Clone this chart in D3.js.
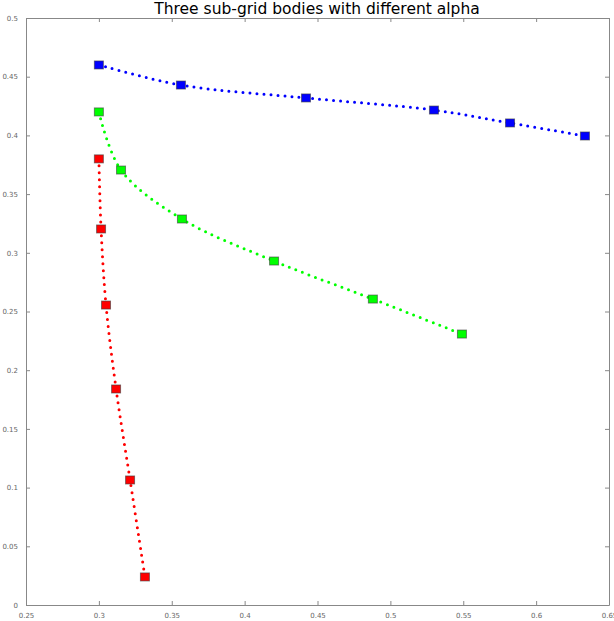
<!DOCTYPE html>
<html>
<head>
<meta charset="utf-8">
<script src="https://cdn.jsdelivr.net/npm/d3@7"></script>
<style>
  html, body { margin: 0; padding: 0; background: #fff; }
  svg { display: block; }
</style>
</head>
<body>
<svg id="chart" width="614" height="621"></svg>
<script>
// Body positions for the three sub-grid runs (x, y)
const blueX  = [0.300, 0.3563, 0.4421, 0.5299, 0.5821, 0.6335];
const blueY  = [0.460, 0.4429, 0.4319, 0.4216, 0.4106, 0.3995];
const greenX = [0.300, 0.3152, 0.3570, 0.4202, 0.4880, 0.5491];
const greenY = [0.420, 0.3705, 0.3288, 0.2930, 0.2606, 0.2308];
const redX   = [0.300, 0.3015, 0.3049, 0.3118, 0.3214, 0.3316];
const redY   = [0.380, 0.3203, 0.2555, 0.1840, 0.1065, 0.0239];

const xTicks = [0.25, 0.3, 0.35, 0.4, 0.45, 0.5, 0.55, 0.6, 0.65];
const yTicks = [0, 0.05, 0.1, 0.15, 0.2, 0.25, 0.3, 0.35, 0.4, 0.45, 0.5];
const xTickLabels = ["0.25", "0.3", "0.35", "0.4", "0.45", "0.5", "0.55", "0.6", "0.65"];
const yTickLabels = ["0", "0.05", "0.1", "0.15", "0.2", "0.25", "0.3", "0.35", "0.4", "0.45", "0.5"];

const series = [
  { name: "blue",  xs: blueX,  ys: blueY,  color: "#0000ff" },
  { name: "green", xs: greenX, ys: greenY, color: "#00ff00" },
  { name: "red",   xs: redX,   ys: redY,   color: "#ff0000" }
];

const svg = d3.select("#chart");
const plotLeft = 26, plotRight = 609, plotTop = 18, plotBottom = 605;

const x = d3.scaleLinear().domain([0.25, 0.65]).range([plotLeft, plotRight]);
const y = d3.scaleLinear().domain([0, 0.5]).range([plotBottom, plotTop]);

// Title
svg.append("text")
  .attr("x", 317).attr("y", 14)
  .attr("text-anchor", "middle")
  .attr("font-family", "DejaVu Sans, sans-serif")
  .attr("font-size", 15.5)
  .attr("fill", "#000")
  .text("Three sub-grid bodies with different alpha");

// Axes with inward ticks on all four sides
const axisStyle = g => {
  g.selectAll(".domain").attr("stroke", "#888").attr("stroke-width", 1);
  g.selectAll(".tick line").attr("stroke", "#888");
  g.selectAll(".tick text")
    .attr("fill", "#666")
    .attr("font-family", "DejaVu Sans, sans-serif")
    .attr("font-size", 7);
};

svg.append("g")
  .attr("transform", `translate(0,${plotBottom})`)
  .call(d3.axisBottom(x).tickValues(xTicks)
    .tickFormat((d, i) => xTickLabels[i])
    .tickSizeInner(-4).tickSizeOuter(0).tickPadding(8))
  .call(axisStyle);

svg.append("g")
  .attr("transform", `translate(0,${plotTop})`)
  .call(d3.axisTop(x).tickValues(xTicks).tickFormat("")
    .tickSizeInner(-4).tickSizeOuter(0))
  .call(axisStyle);

svg.append("g")
  .attr("transform", `translate(${plotLeft},0)`)
  .call(d3.axisLeft(y).tickValues(yTicks)
    .tickFormat((d, i) => yTickLabels[i])
    .tickSizeInner(-4).tickSizeOuter(0).tickPadding(8))
  .call(axisStyle);

svg.append("g")
  .attr("transform", `translate(${plotRight},0)`)
  .call(d3.axisRight(y).tickValues(yTicks).tickFormat("")
    .tickSizeInner(-4).tickSizeOuter(0))
  .call(axisStyle);

// Dotted smooth paths and square markers
const line = d3.line()
  .x(d => x(d[0]))
  .y(d => y(d[1]))
  .curve(d3.curveCatmullRom.alpha(0.5));

series.forEach(s => {
  const pts = s.xs.map((v, i) => [v, s.ys[i]]);
  svg.append("path")
    .datum(pts)
    .attr("d", line)
    .attr("fill", "none")
    .attr("stroke", s.color)
    .attr("stroke-width", 3)
    .attr("stroke-linecap", "round")
    .attr("stroke-dasharray", "0 7");

  svg.append("g").selectAll("rect")
    .data(pts)
    .join("rect")
    .attr("x", d => x(d[0]) - 4.5)
    .attr("y", d => y(d[1]) - 4)
    .attr("width", 9)
    .attr("height", 8)
    .attr("fill", s.color)
    .attr("stroke", "rgba(60,60,60,0.6)")
    .attr("stroke-width", 1);
});
</script>
</body>
</html>
